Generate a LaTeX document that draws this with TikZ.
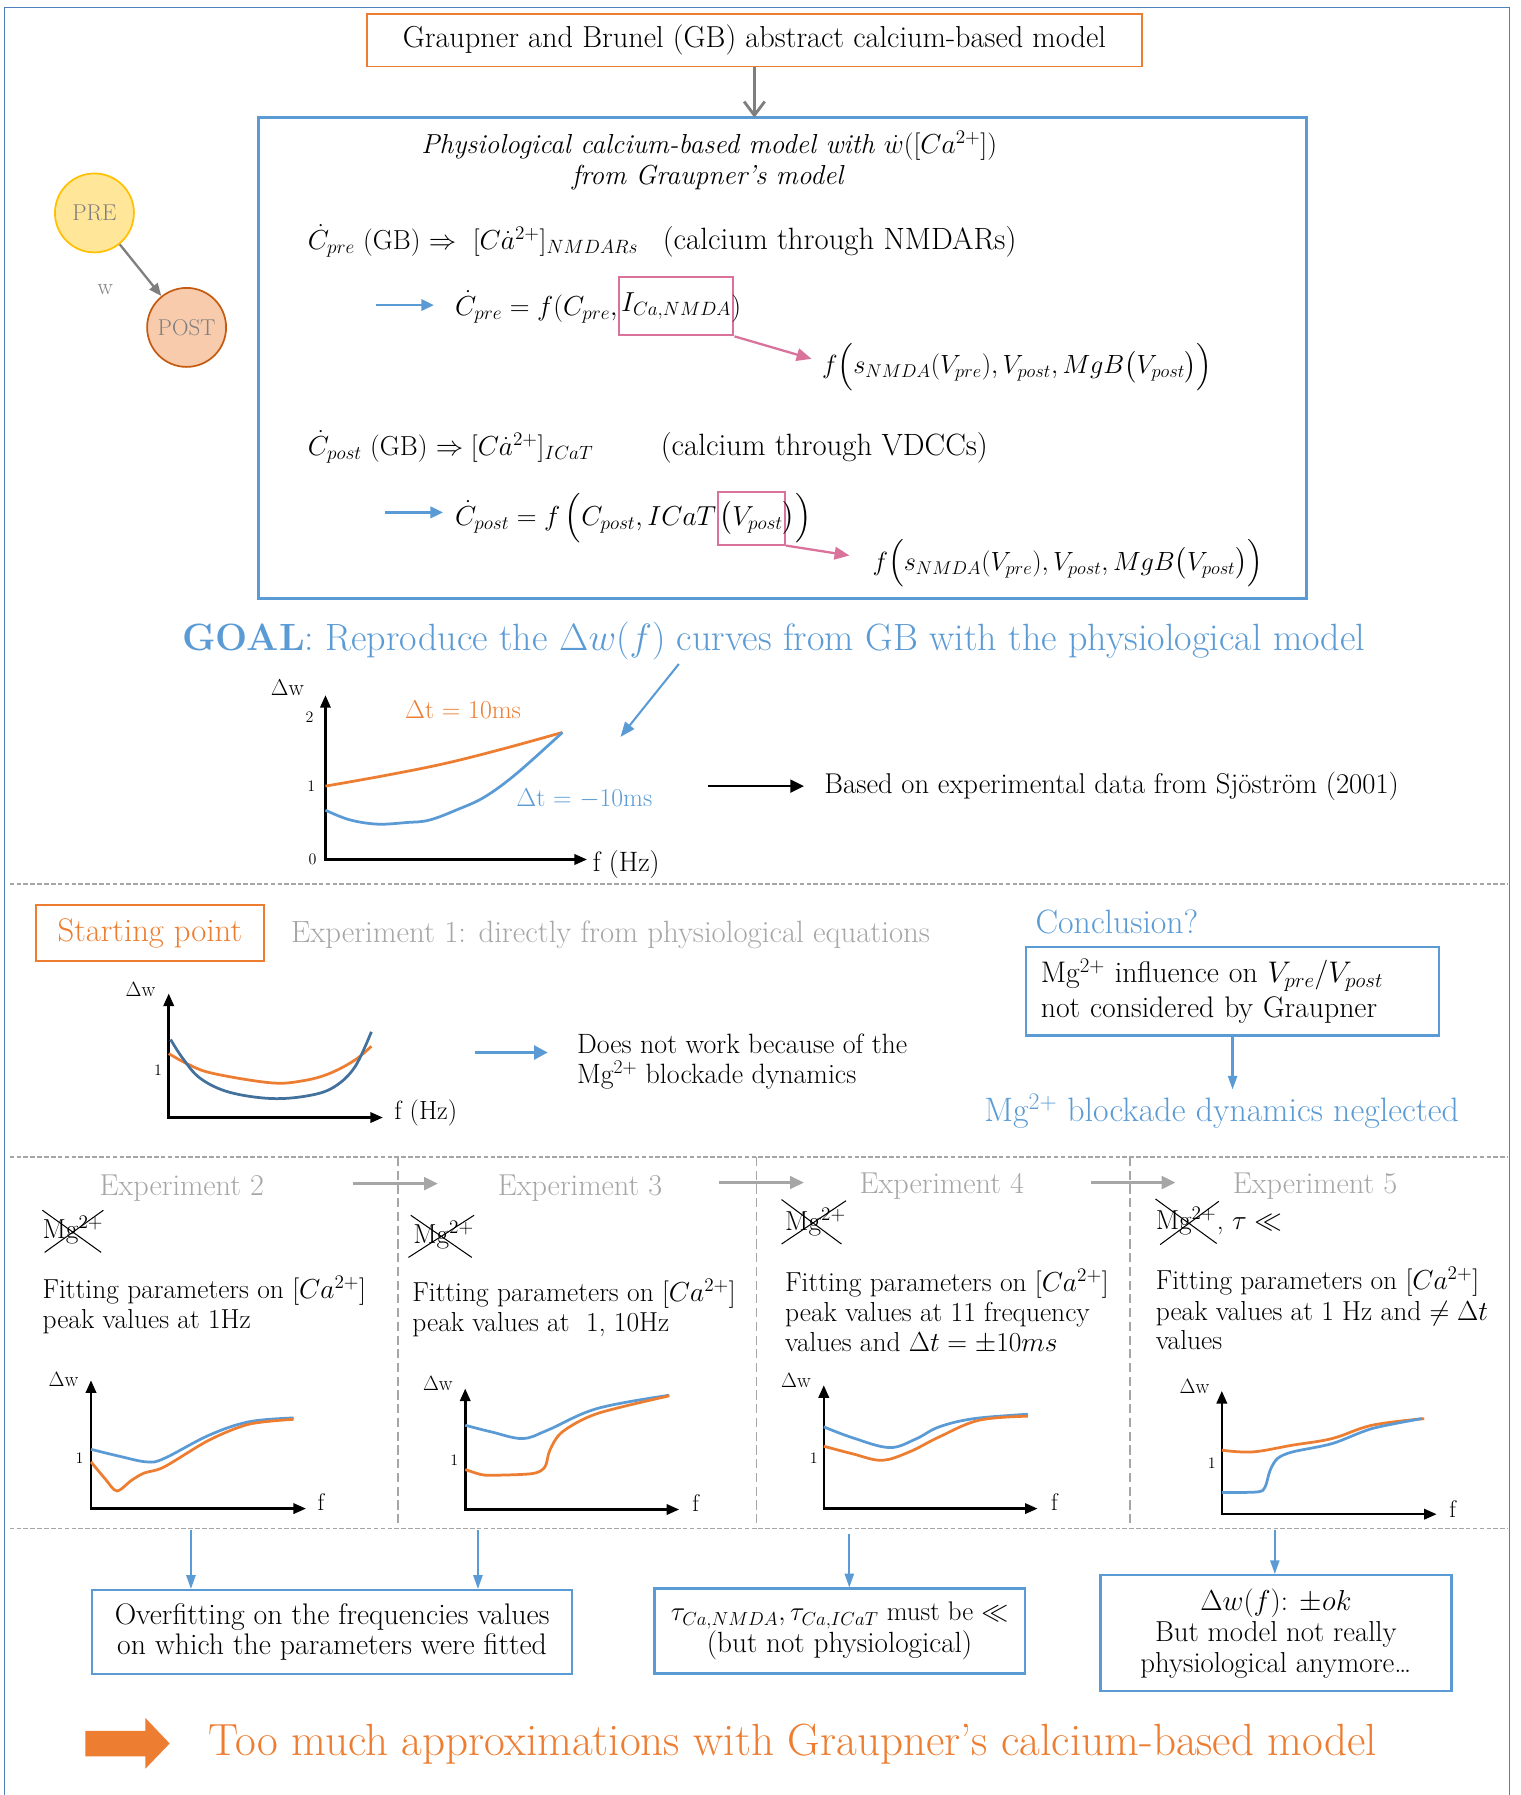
\RequirePackage{fix-cm}
\documentclass[tikz,border=0pt]{standalone}
\usepackage{amsmath,amssymb}
\usepackage{fontspec}
\usetikzlibrary{arrows.meta,calc}
\definecolor{orC}{HTML}{ED7D31}
\definecolor{blC}{HTML}{5B9BD5}
\definecolor{frC}{HTML}{4F81BD}
\definecolor{dbC}{HTML}{41719C}
\definecolor{grT}{HTML}{A6A6A6}
\definecolor{grA}{HTML}{7F7F7F}
\definecolor{pkC}{HTML}{D9739C}
\definecolor{preF}{HTML}{FFE699}
\definecolor{preD}{HTML}{FFC000}
\definecolor{postF}{HTML}{F8CBAD}
\definecolor{postD}{HTML}{C55A11}
\newcommand{\fs}[2]{\fontsize{#1}{#2}\selectfont}
\begin{document}
\begin{tikzpicture}[x=1pt,y=-1pt,
  txt/.style={inner sep=0pt, anchor=base west, font=\fs{26}{30}},
  mth/.style={inner sep=0pt, anchor=base west, font=\fs{24}{28}},
  lbl/.style={inner sep=0pt, font=\fs{18}{20}},
  tick/.style={inner sep=0pt, font=\fs{14}{16}},
  pinkbox/.style={draw=pkC, line width=1.8, inner xsep=2pt, inner ysep=0pt, anchor=base west, font=\fs{24}{28}},
  axes/.style={line width=2.2, {Triangle[length=11,width=9]}-{Triangle[length=11,width=9]}},
  crvO/.style={orC, line width=2.4},
  crvB/.style={blC, line width=2.4},
  crvD/.style={dbC, line width=2.4},
  sepline/.style={grT, line width=1.5, dash pattern=on 4pt off 2pt},
  vsepline/.style={grT, line width=1.5, dash pattern=on 8pt off 4pt},
  blarrow/.style={blC, line width=2.2, -{Triangle[length=11,width=10]}},
  thinblarrow/.style={blC, line width=1.6, -{Triangle[length=12,width=8]}},
  grarrow/.style={grT, line width=2.5, -{Triangle[length=12,width=11]}},
  pkarrow/.style={pkC, line width=2, -{Triangle[length=13,width=11]}},
  crossline/.style={line width=0.9, black},
  fit/.style={inner sep=0pt, anchor=base west, font=\fs{24}{28}}
]
\useasboundingbox (0,0) rectangle (1328,1568);
% outer frame
\draw[frC, line width=1.5] (4,1575) -- (4,6.5) -- (1318.5,6.5) -- (1318.5,1575);

% top box
\node[draw=orC, line width=1.5, minimum width=677, minimum height=46, inner sep=0, font=\fs{26.5}{30}] (gb) at (659,35.2) {Graupner and Brunel (GB) abstract calcium-based model};
\draw[blC, line width=2.8] (226.1,102.8) rectangle (1141.6,522.7);
\coordinate (physTop) at (683.8,102.8);
\draw[grA, line width=2.5, -{Straight Barb[length=12,width=18]}] (gb.south) -- (gb.south |- physTop);

% PRE / POST
\node[circle, draw=preD, fill=preF, line width=1.5, minimum size=69, inner sep=0, text=grA, font=\fs{20}{22}] (pre) at (82.5,186) {PRE};
\node[circle, draw=postD, fill=postF, line width=1.5, minimum size=69, inner sep=0, text=grA, font=\fs{20}{22}] (post) at (163,286) {POST};
\draw[grA, line width=2, -{Triangle[length=11,width=9]}] (pre) -- (post);
\node[inner sep=0, text=grA, font=\fs{20}{22}] (wlab) at (92,253) {w};

% title in box
\node[inner sep=0, anchor=base, font=\fs{24}{28}\itshape] (t1) at (619.5,134) {Physiological calcium-based model with $\dot{w}([Ca^{2+}])$};
\node[inner sep=0, anchor=base, font=\fs{24}{28}\itshape] (t2) at (618.2,161.6) {from Graupner's model};

% equation 1
\node[mth] (e1) at (268.7,218) {$\dot{C}_{pre}$ (GB) $\Rightarrow$\ \ $[C\dot{a}^{2+}]_{NMDARs}$};
\node[txt, font=\fs{26.9}{30}] (e1t) at (578.8,218) {(calcium through NMDARs)};
\coordinate (a1s) at (328.8,266.5);
\coordinate (a1e) at (379,266.5);
\draw[blarrow] (a1s) -- (a1e);
\node[mth] (e2a) at (397.4,275.2) {$\dot{C}_{pre} = f(C_{pre},$};
\node[pinkbox, minimum height=51] (e2b) at ($(e2a.base east)+(0,-3)$) {$I_{Ca,NMDA}$};
\node[mth] (e2c) at ($(e2b.base east)+(-3,3)$) {$)$};
\node[mth, font=\fs{23}{27}] (e3) at (717.9,326.2) {$f\Bigl(s_{NMDA}(V_{pre}), V_{post}, MgB\bigl(V_{post}\bigr)\Bigr)$};
\draw[pkarrow] (e2b.south east) -- ($(e3.west)+(-9,-7)$);

% equation 2
\node[mth] (e4) at (268.7,397.5) {$\dot{C}_{post}$ (GB) $\Rightarrow [C\dot{a}^{2+}]_{ICaT}$};
\node[txt, font=\fs{26.9}{30}] (e4t) at (577,397.5) {(calcium through VDCCs)};
\coordinate (a2s) at (336.7,447.6);
\coordinate (a2e) at (387,447.6);
\draw[blarrow] (a2s) -- (a2e);
\node[mth] (e5a) at (397.4,458.7) {$\dot{C}_{post} = f\,\Bigl(C_{post}, ICaT$};
\node[pinkbox, minimum height=46] (e5b) at (e5a.base east) {$\bigl(V_{post}$};
\node[mth] (e5c) at ($(e5b.base east)+(-3,0)$) {$\bigr)\Bigr)$};
\node[mth, font=\fs{23}{27}] (e6) at (762,498) {$f\Bigl(s_{NMDA}(V_{pre}), V_{post}, MgB\bigl(V_{post}\bigr)\Bigr)$};
\draw[pkarrow] (e5b.south east) -- ($(e6.west)+(-20,-7)$);

% GOAL
\node[txt, font=\fs{33.2}{38}, text=blC] (goal) at (158.9,567.9) {\textbf{GOAL}: Reproduce the $\Delta w(f)$ curves from GB with the physiological model};
\coordinate (ga1) at (593,580);
\coordinate (ga2) at (542,643.7);
\draw[blC, line width=1.8, -{Triangle[length=13,width=10]}] (ga1) -- (ga2);

% graph 1
\coordinate (g1o) at (284.3,750.8);
\coordinate (g1y) at (284.3,607.2);
\coordinate (g1x) at (512.8,750.8);
\draw[axes] (g1y) -- (g1o) -- (g1x);
\node[lbl, font=\fs{20}{22}] (g1w) at (251,601) {$\Delta$w};
\node[tick] (g1t2) at (270.3,626.1) {2};
\node[tick] (g1t1) at (271.9,686.4) {1};
\node[tick] (g1t0) at (273,750.8) {0};
\node[lbl, font=\fs{24.5}{27}] (g1f) at (547,755) {f (Hz)};
\draw[crvO] plot[smooth, tension=0.6] coordinates {(284.3,686.7) (336,677.5) (388.8,666.9) (440,654) (491.3,639.8)};
\draw[crvB] plot[smooth, tension=0.6] coordinates {(284.3,707.7) (305,716) (329.6,719.9) (355,718.5) (374.9,716.4) (400,707) (423.6,696) (451.4,675.6) (491.3,639.8)};
\node[lbl, font=\fs{22.5}{25}, text=orC] (dt1) at (404.5,620.3) {$\Delta$t = 10ms};
\node[lbl, font=\fs{22.5}{25}, text=blC] (dt2) at (510.5,697.5) {$\Delta$t = $-$10ms};
\coordinate (ba1) at (618.6,686.7);
\coordinate (ba2) at (702.4,686.7);
\draw[line width=2.4, -{Triangle[length=12,width=11]}] (ba1) -- (ba2);
\node[txt, font=\fs{25}{28}] (based) at (720,693.1) {Based on experimental data from Sjöström (2001)};

% separators
\draw[sepline] (8.5,772.3) -- (1317,772.3);
\draw[sepline] (8.5,1010.6) -- (1317,1010.6);
\draw[sepline] (8.5,1335.3) -- (1317,1335.3);
\draw[vsepline] (347.7,1010.6) -- (347.7,1335.3);
\draw[vsepline] (660.8,1010.6) -- (660.8,1335.3);
\draw[vsepline] (986.9,1010.6) -- (986.9,1335.3);

% starting point
\node[draw=orC, line width=1.5, minimum width=199, minimum height=48.6, inner sep=0, font=\fs{28.6}{32}, text=orC] (start) at (130.9,815) {Starting point};
\node[txt, font=\fs{26.9}{30}, text=grT] (exp1) at (254,823.6) {Experiment 1: directly from physiological equations};
\coordinate (g0o) at (147.4,976.2);
\coordinate (g0y) at (147.4,867.8);
\coordinate (g0x) at (334.5,976.2);
\draw[axes] (g0y) -- (g0o) -- (g0x);
\node[lbl] (g0w) at (122.8,864) {$\Delta$w};
\node[tick] (g0t1) at (138,934.8) {1};
\node[lbl, font=\fs{23}{26}] (g0f) at (372,972) {f (Hz)};
\draw[crvO] plot[smooth, tension=0.6] coordinates {(147.4,920.3) (165,930) (186.3,937.7) (237,945.9) (265,944) (287.9,937.7) (310,926) (324.4,913.9)};
\draw[crvD] plot[smooth, tension=0.6] coordinates {(149,908) (160,925) (175,942) (200,954) (237,959.6) (270,957) (292,949.4) (310,932) (324.4,901.3)};
\coordinate (da1) at (415,919.4);
\coordinate (da2) at (478.5,919.4);
\draw[blC, line width=3.2, -{Triangle[length=12,width=12]}] (da1) -- (da2);
\node[txt, font=\fs{24.4}{28}] (dn1) at (503.9,920.3) {Does not work because of the};
\node[txt, font=\fs{24.4}{28}] (dn2) at (503.9,946.5) {Mg$^{2+}$ blockade dynamics};

% conclusion
\node[txt, font=\fs{29.5}{33}, text=blC] (concl) at (904.5,815.4) {Conclusion?};
\node[draw=blC, line width=2, text width=335, inner xsep=13, inner ysep=0, minimum height=77.4, align=left, font=\fs{26}{30.5}, anchor=north west] (cbox) at (895.2,826.2) {Mg$^{2+}$ influence on $V_{pre}/V_{post}$\\not considered by Graupner};
\node[txt, font=\fs{29.6}{33}, text=blC] (negl) at (859.6,980) {Mg$^{2+}$ blockade dynamics neglected};
\draw[thinblarrow, line width=2] (cbox.south) -- ($(cbox.south |- negl.north)+(0,-4)$);

% experiment titles
\node[txt, font=\fs{26.4}{30}, text=grT] (x2) at (86.9,1044) {Experiment 2};
\node[txt, font=\fs{26.4}{30}, text=grT] (x3) at (434.7,1044) {Experiment 3};
\node[txt, font=\fs{26.4}{30}, text=grT] (x4) at (750.8,1042.6) {Experiment 4};
\node[txt, font=\fs{26.4}{30}, text=grT] (x5) at (1076.8,1042.6) {Experiment 5};
\coordinate (xa1) at (308.6,1033.9); \coordinate (xa2) at (382.5,1033.9);
\coordinate (xb1) at (628,1033); \coordinate (xb2) at (702.2,1033);
\coordinate (xc1) at (953,1033); \coordinate (xc2) at (1026.8,1033);
\draw[grarrow] (xa1) -- (xa2);
\draw[grarrow] (xb1) -- (xb2);
\draw[grarrow] (xc1) -- (xc2);

% crossed Mg
\node[txt, font=\fs{24}{28}] (mg2) at (37,1081.9) {Mg$^{2+}$};
\draw[crossline] ($(mg2.north west)+(0,-5)$) -- ($(mg2.south east)+(-2,7)$) ($(mg2.south west)+(2,7)$) -- ($(mg2.north east)+(0,-5)$);
\node[txt, font=\fs{24}{28}] (mg3) at (360.8,1086.3) {Mg$^{2+}$};
\draw[crossline] ($(mg3.north west)+(-2,-5)$) -- ($(mg3.south east)+(-2,7)$) ($(mg3.south west)+(-4,7)$) -- ($(mg3.north east)+(0,-5)$);
\node[txt, font=\fs{24}{28}] (mg4) at (685.7,1074.6) {Mg$^{2+}$};
\draw[crossline] ($(mg4.north west)+(-3,-7)$) -- ($(mg4.south east)+(-4,7)$) ($(mg4.south west)+(-3,7)$) -- ($(mg4.north east)+(0,-6)$);
\node[txt, font=\fs{24}{28}] (mg5) at (1009.4,1074.1) {Mg$^{2+}$};
\draw[crossline] ($(mg5.north west)+(0,-7)$) -- ($(mg5.south east)+(0,7)$) ($(mg5.south west)+(4,8)$) -- ($(mg5.north east)+(2,-5)$);
\node[txt, font=\fs{24}{28}] (tau5) at (mg5.base east) {, $\tau \ll$};

% fitting texts
\node[fit] (f2a) at (37,1134.3) {Fitting parameters on $[Ca^{2+}]$};
\node[fit] (f2b) at (37,1160.5) {peak values at 1Hz};
\node[fit] (f3a) at (360,1137.2) {Fitting parameters on $[Ca^{2+}]$};
\node[fit] (f3b) at (360,1163.4) {peak values at~ 1, 10Hz};
\node[fit] (f4a) at (685.7,1128.5) {Fitting parameters on $[Ca^{2+}]$};
\node[fit] (f4b) at (685.7,1154.7) {peak values at 11 frequency};
\node[fit] (f4c) at (685.7,1180.9) {values and $\Delta t = \pm 10ms$};
\node[fit] (f5a) at (1009.4,1126.4) {Fitting parameters on $[Ca^{2+}]$};
\node[fit] (f5b) at (1009.4,1153.3) {peak values at 1 Hz and $\neq \Delta t$};
\node[fit] (f5c) at (1009.4,1178.9) {values};

% graph exp2
\coordinate (g2o) at (79.5,1317.8);
\coordinate (g2y) at (79.5,1205.7);
\coordinate (g2x) at (267.3,1317.8);
\draw[axes] (g2y) -- (g2o) -- (g2x);
\node[lbl] (g2w) at (55.5,1205) {$\Delta$w};
\node[tick] (g2t) at (69.5,1274) {1};
\node[lbl, font=\fs{21}{23}] (g2f) at (280.4,1312) {f};
\draw[crvB] plot[smooth, tension=0.6] coordinates {(79.5,1266) (104,1272) (128.2,1277) (143.4,1274) (182.6,1253.7) (217.4,1242) (256.5,1238.6)};
\draw[crvO] plot[smooth, tension=0.5] coordinates {(79.5,1277) (92,1292) (102.1,1302.4) (115,1293) (126,1286.7) (143.4,1281.4) (182.6,1258) (217.4,1244.1) (256.5,1239.8)};

% graph exp3
\coordinate (g3o) at (406.4,1318.6);
\coordinate (g3y) at (406.4,1212.9);
\coordinate (g3x) at (593.3,1318.6);
\draw[axes] (g3y) -- (g3o) -- (g3x);
\node[lbl] (g3w) at (382.5,1208.5) {$\Delta$w};
\node[tick] (g3t) at (396.8,1275.5) {1};
\node[lbl, font=\fs{21}{23}] (g3f) at (607.7,1313) {f};
\draw[crvB] plot[smooth, tension=0.6] coordinates {(406.4,1245) (430,1251) (456.4,1256.6) (478.1,1249.4) (521.6,1230.4) (584.6,1218.8)};
\draw[crvO] plot[smooth, tension=0.5] coordinates {(406.4,1283.7) (420,1288) (430.3,1288.7) (465.1,1287.2) (476,1281.4) (480.3,1266.8) (491.2,1250.8) (521.6,1234.8) (584.6,1219.3)};

% graph exp4
\coordinate (g4o) at (719.6,1317.8);
\coordinate (g4y) at (719.6,1210);
\coordinate (g4x) at (906.4,1317.8);
\draw[axes] (g4y) -- (g4o) -- (g4x);
\node[lbl] (g4w) at (695.4,1205.7) {$\Delta$w};
\node[tick] (g4t) at (710.8,1274) {1};
\node[lbl, font=\fs{21}{23}] (g4f) at (921,1312) {f};
\draw[crvB] plot[smooth, tension=0.6] coordinates {(719.6,1246.4) (745,1256) (777,1264.5) (800,1257) (820.4,1246.4) (850.8,1239.2) (897.8,1235.4)};
\draw[crvO] plot[smooth, tension=0.6] coordinates {(719.6,1263.3) (745,1270) (770.4,1275.6) (795,1268) (820.4,1255.2) (855.2,1240.6) (897.8,1237.1)};

% graph exp5
\coordinate (g5o) at (1067.3,1322.7);
\coordinate (g5y) at (1067.3,1215);
\coordinate (g5x) at (1255,1322.7);
\draw[axes] (g5y) -- (g5o) -- (g5x);
\node[lbl] (g5w) at (1043.5,1211.5) {$\Delta$w};
\node[tick] (g5t) at (1058.5,1278.5) {1};
\node[lbl, font=\fs{21}{23}] (g5f) at (1269,1318) {f};
\draw[crvO] plot[smooth, tension=0.6] coordinates {(1067.3,1266.8) (1094.2,1268.3) (1129,1262.4) (1163.7,1256.6) (1198.5,1245) (1244.1,1239.2)};
\draw[crvB] plot[smooth, tension=0.5] coordinates {(1067.3,1303.8) (1098.6,1303.2) (1105.1,1298.9) (1109.5,1284.3) (1116,1274) (1129,1268.3) (1163.7,1261) (1198.5,1247.9) (1242,1239.2)};

% bottom boxes
\node[draw=blC, line width=2, minimum width=419, minimum height=73, inner sep=0, align=center, font=\fs{26}{26.2}] (bA) at (290.1,1425.5) {Overfitting on the frequencies values\\on which the parameters were fitted};
\node[draw=blC, line width=2, minimum width=323.6, minimum height=74.2, inner sep=0, align=center, font=\fs{25.5}{27.6}] (bB) at (733.4,1424.8) {{\fs{23.5}{27.6}$\tau_{Ca,NMDA}, \tau_{Ca,ICaT}$ must be $\ll$}\\(but not physiological)};
\node[draw=blC, line width=2, minimum width=306.6, minimum height=101.4, inner sep=0, align=center, font=\fs{25.2}{27}] (bC) at (1114.5,1426.7) {$\Delta w(f)$: $\pm ok$\\But model not really\\physiological anymore…};
\coordinate (q1) at (166.8,1336.7);
\coordinate (q2) at (417.5,1336.7);
\coordinate (q3) at (741.9,1339.6);
\coordinate (q4) at (1113.6,1336.7);
\draw[thinblarrow] (q1) -- (q1 |- bA.north);
\draw[thinblarrow] (q2) -- (q2 |- bA.north);
\draw[thinblarrow] (q3) -- (q3 |- bB.north);
\draw[thinblarrow] (q4) -- (q4 |- bC.north);

% final conclusion
\fill[orC] (74.5,1512) -- (127,1512) -- (127,1500.7) -- (148.2,1523) -- (127,1545) -- (127,1534.2) -- (74.5,1534.2) -- cycle;
\node[txt, font=\fs{39.4}{44}, text=orC] (final) at (182,1533.3) {Too much approximations with Graupner’s calcium-based model};
\end{tikzpicture}
\end{document}
